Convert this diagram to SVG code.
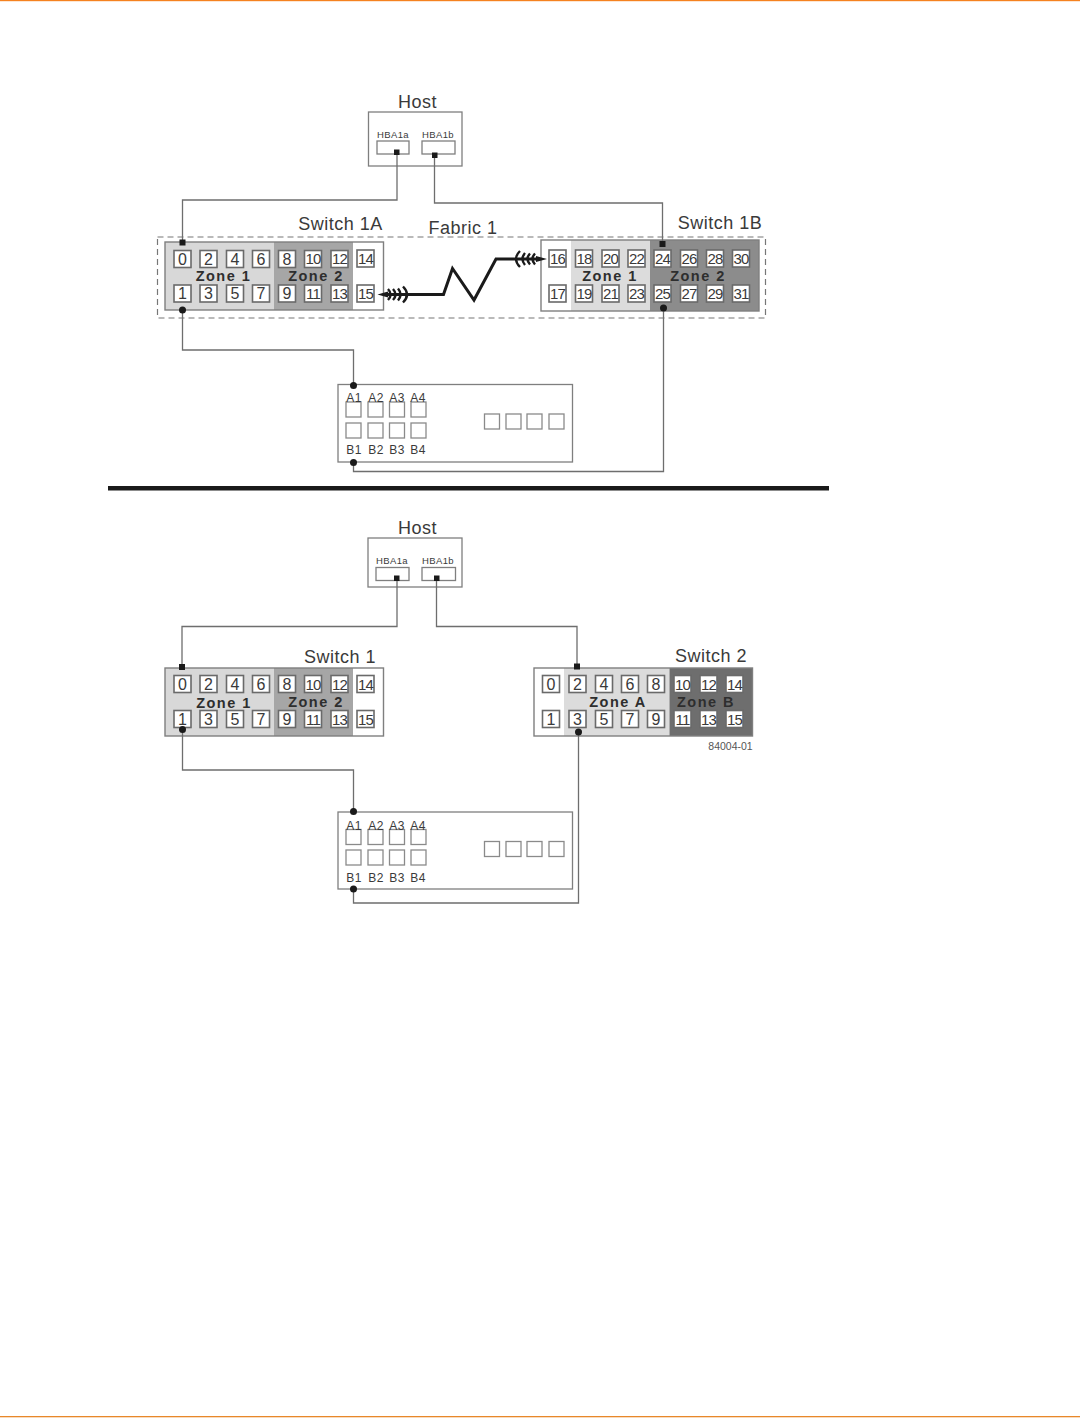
<svg xmlns="http://www.w3.org/2000/svg" width="1080" height="1418" viewBox="0 0 1080 1418">
<style>
text{font-family:"Liberation Sans",Arial,sans-serif;fill:#3a3a3a;text-anchor:middle}
.box{fill:#fff;stroke:#7f7f7f;stroke-width:1.3}
.p{fill:#fff;stroke:#6a6a6a;stroke-width:1.6}
.s{fill:#fff;stroke:#8a8a8a;stroke-width:1.3}
.n{font-size:16px}
.m{font-size:15px;letter-spacing:-.9px}
.t{font-size:18px;letter-spacing:.5px}
.z{font-size:14.5px;font-weight:bold;letter-spacing:1.5px;fill:#2e2e2e}
.h{font-size:9.5px;letter-spacing:.4px}
.a{font-size:12px;letter-spacing:.3px}
.w{fill:none;stroke:#6e6e6e;stroke-width:1.3}
.f{fill:none;stroke:#1a1a1a;stroke-width:3;stroke-linejoin:miter}
.b{fill:none;stroke:#1a1a1a;stroke-width:2.4}
.d{fill:#1a1a1a}
</style>
<rect x="0" y="0" width="1080" height="1.2" fill="#f58220"/>
<rect x="0" y="1416" width="1080" height="1.3" fill="#e8882a"/>
<rect x="108" y="486" width="721" height="4.5" fill="#1a1a1a"/>

<g id="fabric1">
<rect x="157.500" y="237" width="608" height="81" fill="none" stroke="#777" stroke-width="1.2" stroke-dasharray="6 4"/>
<text class="t" x="463" y="234">Fabric 1</text>
</g>

<g id="host1">
<text class="t" x="417.500" y="107.500">Host</text>
<rect class="box" x="368.500" y="112" width="93.500" height="54"/>
<text class="h" x="393" y="138">HBA1a</text>
<text class="h" x="438" y="138">HBA1b</text>
<rect class="box" x="377" y="141" width="32" height="13"/>
<rect class="box" x="422" y="141" width="33" height="13"/>
</g>

<g id="switch1a">
<text class="t" x="340.500" y="230">Switch 1A</text>
<rect x="165" y="242" width="109" height="68" fill="#d8d8d8"/>
<rect x="274" y="242" width="79" height="68" fill="#a6a6a6"/>
<rect x="165" y="242" width="218.500" height="68" fill="none" stroke="#7f7f7f" stroke-width="1.4"/>
<g class="ports">
<rect class="p" x="174" y="250.500" width="17" height="17"/><rect class="p" x="200" y="250.500" width="17" height="17"/><rect class="p" x="226.500" y="250.500" width="17" height="17"/><rect class="p" x="252.500" y="250.500" width="17" height="17"/><rect class="p" x="278.500" y="250.500" width="17" height="17"/><rect class="p" x="304.500" y="250.500" width="17" height="17"/><rect class="p" x="331" y="250.500" width="17" height="17"/><rect class="p" x="357" y="250" width="17" height="17"/>
<rect class="p" x="174" y="285" width="17" height="17"/><rect class="p" x="200" y="285" width="17" height="17"/><rect class="p" x="226.500" y="285" width="17" height="17"/><rect class="p" x="252.500" y="285" width="17" height="17"/><rect class="p" x="278.500" y="285" width="17" height="17"/><rect class="p" x="304.500" y="285" width="17" height="17"/><rect class="p" x="331" y="285" width="17" height="17"/><rect class="p" x="357" y="285" width="17" height="17"/>
</g>
<text class="n" x="182.500" y="264.500">0</text><text class="n" x="208.500" y="264.500">2</text><text class="n" x="235" y="264.500">4</text><text class="n" x="261" y="264.500">6</text><text class="n" x="287" y="264.500">8</text><text class="m" x="313" y="264">10</text><text class="m" x="339.500" y="264">12</text><text class="m" x="365.500" y="263.500">14</text>
<text class="n" x="182.500" y="299">1</text><text class="n" x="208.500" y="299">3</text><text class="n" x="235" y="299">5</text><text class="n" x="261" y="299">7</text><text class="n" x="287" y="299">9</text><text class="m" x="313" y="298.500">11</text><text class="m" x="339.500" y="298.500">13</text><text class="m" x="365.500" y="298.500">15</text>
<text class="z" x="223.500" y="281">Zone 1</text>
<text class="z" x="316" y="281">Zone 2</text>
</g>

<g id="switch1b">
<text class="t" x="720" y="229">Switch 1B</text>
<rect x="541" y="240" width="30" height="71" fill="#fff"/>
<rect x="571" y="240" width="79" height="71" fill="#dcdcdc"/>
<rect x="650" y="240" width="109" height="71" fill="#8c8c8c"/>
<rect x="541" y="240" width="218" height="71" fill="none" stroke="#7f7f7f" stroke-width="1.4"/>
<g class="ports">
<rect class="p" x="549" y="250" width="17" height="17"/><rect class="p" x="575.500" y="250" width="17" height="17"/><rect class="p" x="602" y="250" width="17" height="17"/><rect class="p" x="628" y="250" width="17" height="17"/><rect class="p" x="654" y="250" width="17" height="17"/><rect class="p" x="680.500" y="250" width="17" height="17"/><rect class="p" x="706.500" y="250" width="17" height="17"/><rect class="p" x="732.500" y="250" width="17" height="17"/>
<rect class="p" x="549" y="285" width="17" height="17"/><rect class="p" x="575.500" y="285" width="17" height="17"/><rect class="p" x="602" y="285" width="17" height="17"/><rect class="p" x="628" y="285" width="17" height="17"/><rect class="p" x="654" y="285" width="17" height="17"/><rect class="p" x="680.500" y="285" width="17" height="17"/><rect class="p" x="706.500" y="285" width="17" height="17"/><rect class="p" x="732.500" y="285" width="17" height="17"/>
</g>
<text class="m" x="557.500" y="263.500">16</text><text class="m" x="584" y="263.500">18</text><text class="m" x="610.500" y="263.500">20</text><text class="m" x="636.500" y="263.500">22</text><text class="m" x="662.500" y="263.500">24</text><text class="m" x="689" y="263.500">26</text><text class="m" x="715" y="263.500">28</text><text class="m" x="741" y="263.500">30</text>
<text class="m" x="557.500" y="298.500">17</text><text class="m" x="584" y="298.500">19</text><text class="m" x="610.500" y="298.500">21</text><text class="m" x="636.500" y="298.500">23</text><text class="m" x="662.500" y="298.500">25</text><text class="m" x="689" y="298.500">27</text><text class="m" x="715" y="298.500">29</text><text class="m" x="741" y="298.500">31</text>
<text class="z" x="610" y="281">Zone 1</text>
<text class="z" x="698" y="281">Zone 2</text>
</g>

<g id="storage1">
<rect class="box" x="338" y="384.500" width="234.500" height="77.500"/>
<rect class="s" x="346" y="402" width="15" height="15"/><rect class="s" x="368" y="402" width="15" height="15"/><rect class="s" x="389.500" y="402" width="15" height="15"/><rect class="s" x="411" y="402" width="15" height="15"/>
<text class="a" x="354" y="402">A1</text><text class="a" x="376" y="402">A2</text><text class="a" x="397" y="402">A3</text><text class="a" x="418" y="402">A4</text>
<rect class="s" x="346" y="423" width="15" height="15"/><rect class="s" x="368" y="423" width="15" height="15"/><rect class="s" x="389.500" y="423" width="15" height="15"/><rect class="s" x="411" y="423" width="15" height="15"/>
<rect class="s" x="484.500" y="414" width="15" height="15"/><rect class="s" x="506" y="414" width="15" height="15"/><rect class="s" x="527" y="414" width="15" height="15"/><rect class="s" x="549" y="414" width="15" height="15"/>
<text class="a" x="354" y="453.500">B1</text><text class="a" x="376" y="453.500">B2</text><text class="a" x="397" y="453.500">B3</text><text class="a" x="418" y="453.500">B4</text>
</g>

<g id="host2">
<text class="t" x="417.500" y="533.500">Host</text>
<rect class="box" x="368" y="538" width="94" height="49"/>
<text class="h" x="392" y="564">HBA1a</text>
<text class="h" x="438" y="564">HBA1b</text>
<rect class="box" x="376" y="567.500" width="33" height="13"/>
<rect class="box" x="422" y="567.500" width="33.500" height="13"/>
</g>

<g id="switch1">
<text class="t" x="340" y="662.500">Switch 1</text>
<rect x="165" y="668" width="109" height="68" fill="#d8d8d8"/>
<rect x="274" y="668" width="79" height="68" fill="#a6a6a6"/>
<rect x="165" y="668" width="218.500" height="68" fill="none" stroke="#7f7f7f" stroke-width="1.4"/>
<g class="ports">
<rect class="p" x="174" y="675.500" width="17" height="17"/><rect class="p" x="200" y="675.500" width="17" height="17"/><rect class="p" x="226.500" y="675.500" width="17" height="17"/><rect class="p" x="252.500" y="675.500" width="17" height="17"/><rect class="p" x="278.500" y="675.500" width="17" height="17"/><rect class="p" x="304.500" y="675.500" width="17" height="17"/><rect class="p" x="331" y="675.500" width="17" height="17"/><rect class="p" x="357" y="675.500" width="17" height="17"/>
<rect class="p" x="174" y="710.500" width="17" height="17"/><rect class="p" x="200" y="710.500" width="17" height="17"/><rect class="p" x="226.500" y="710.500" width="17" height="17"/><rect class="p" x="252.500" y="710.500" width="17" height="17"/><rect class="p" x="278.500" y="710.500" width="17" height="17"/><rect class="p" x="304.500" y="710.500" width="17" height="17"/><rect class="p" x="331" y="710.500" width="17" height="17"/><rect class="p" x="357" y="710.500" width="17" height="17"/>
</g>
<text class="n" x="182.500" y="690">0</text><text class="n" x="208.500" y="690">2</text><text class="n" x="235" y="690">4</text><text class="n" x="261" y="690">6</text><text class="n" x="287" y="690">8</text><text class="m" x="313" y="689.500">10</text><text class="m" x="339.500" y="689.500">12</text><text class="m" x="365.500" y="689.500">14</text>
<text class="n" x="182.500" y="725">1</text><text class="n" x="208.500" y="725">3</text><text class="n" x="235" y="725">5</text><text class="n" x="261" y="725">7</text><text class="n" x="287" y="725">9</text><text class="m" x="313" y="724.500">11</text><text class="m" x="339.500" y="724.500">13</text><text class="m" x="365.500" y="724.500">15</text>
<text class="z" x="224" y="708">Zone 1</text>
<text class="z" x="316" y="707">Zone 2</text>
</g>

<g id="switch2">
<text class="t" x="711" y="662">Switch 2</text>
<rect x="534" y="668" width="30" height="68" fill="#fff"/>
<rect x="564" y="668" width="105.500" height="68" fill="#dcdcdc"/>
<rect x="669.500" y="668" width="83" height="68" fill="#6e6e6e"/>
<rect x="534" y="668" width="218.500" height="68" fill="none" stroke="#7f7f7f" stroke-width="1.4"/>
<g class="ports">
<rect class="p" x="542.500" y="675.500" width="17" height="17"/><rect class="p" x="569" y="675.500" width="17" height="17"/><rect class="p" x="595.500" y="675.500" width="17" height="17"/><rect class="p" x="621.500" y="675.500" width="17" height="17"/><rect class="p" x="647.500" y="675.500" width="17" height="17"/><rect class="p" x="674" y="675.500" width="17" height="17"/><rect class="p" x="700" y="675.500" width="17" height="17"/><rect class="p" x="726" y="675.500" width="17" height="17"/>
<rect class="p" x="542.500" y="710.500" width="17" height="17"/><rect class="p" x="569" y="710.500" width="17" height="17"/><rect class="p" x="595.500" y="710.500" width="17" height="17"/><rect class="p" x="621.500" y="710.500" width="17" height="17"/><rect class="p" x="647.500" y="710.500" width="17" height="17"/><rect class="p" x="674" y="710.500" width="17" height="17"/><rect class="p" x="700" y="710.500" width="17" height="17"/><rect class="p" x="726" y="710.500" width="17" height="17"/>
</g>
<text class="n" x="551" y="690">0</text><text class="n" x="577.500" y="690">2</text><text class="n" x="604" y="690">4</text><text class="n" x="630" y="690">6</text><text class="n" x="656" y="690">8</text><text class="m" x="682.500" y="689.500">10</text><text class="m" x="708.500" y="689.500">12</text><text class="m" x="734.500" y="689.500">14</text>
<text class="n" x="551" y="725">1</text><text class="n" x="577.500" y="725">3</text><text class="n" x="604" y="725">5</text><text class="n" x="630" y="725">7</text><text class="n" x="656" y="725">9</text><text class="m" x="682.500" y="724.500">11</text><text class="m" x="708.500" y="724.500">13</text><text class="m" x="734.500" y="724.500">15</text>
<text class="z" x="618" y="707">Zone A</text>
<text class="z" x="706" y="707">Zone B</text>
<text x="730.500" y="750" style="font-size:10.500px;fill:#555">84004-01</text>
</g>

<g id="storage2">
<rect class="box" x="338" y="812" width="234.500" height="77"/>
<rect class="s" x="346" y="829.500" width="15" height="15"/><rect class="s" x="368" y="829.500" width="15" height="15"/><rect class="s" x="389.500" y="829.500" width="15" height="15"/><rect class="s" x="411" y="829.500" width="15" height="15"/>
<text class="a" x="354" y="830">A1</text><text class="a" x="376" y="830">A2</text><text class="a" x="397" y="830">A3</text><text class="a" x="418" y="830">A4</text>
<rect class="s" x="346" y="850" width="15" height="15"/><rect class="s" x="368" y="850" width="15" height="15"/><rect class="s" x="389.500" y="850" width="15" height="15"/><rect class="s" x="411" y="850" width="15" height="15"/>
<rect class="s" x="484.500" y="841.500" width="15" height="15"/><rect class="s" x="506" y="841.500" width="15" height="15"/><rect class="s" x="527" y="841.500" width="15" height="15"/><rect class="s" x="549" y="841.500" width="15" height="15"/>
<text class="a" x="354" y="881.500">B1</text><text class="a" x="376" y="881.500">B2</text><text class="a" x="397" y="881.500">B3</text><text class="a" x="418" y="881.500">B4</text>
</g>

<g id="connectors">
<path class="w" d="M397 152V200H182.500V243"/>
<path class="w" d="M434.500 155V203H662.500V244"/>
<path class="w" d="M182.500 310V350H353.500V385"/>
<path class="w" d="M353.500 463V471.500H663.500V308"/>
<path class="w" d="M397 578V626.500H182V667"/>
<path class="w" d="M436.500 578V626.500H577V666"/>
<path class="w" d="M182.500 730V770H353.500V812"/>
<path class="w" d="M353.500 889V903H578.500V732"/>
<path class="f" d="M388 294.500H443.500L452.500 268.500L474 300L496 259H536"/>
<path class="d" d="M377.500 294.500L388 291.500V297.500ZM547 259L536 256V262Z"/>
<path class="b" d="M388 289Q393 294.500 388 300M393 289Q398 294.500 393 300M398 288.500Q403 294.500 398 300.500M403 286.500Q411 294.500 403 302.500"/>
<path class="b" d="M535 253.500Q530 259 535 264.500M530 253.500Q525 259 530 264.500M525 253Q520 259 525 265M520 251Q512 259 520 267"/>
<rect class="d" x="179.500" y="239.500" width="6" height="6"/>
<rect class="d" x="659.500" y="241" width="6" height="6"/>
<rect class="d" x="179" y="664" width="6" height="6"/>
<rect class="d" x="574" y="663.500" width="6" height="6"/>
<rect class="d" x="394" y="149.500" width="5.500" height="5.500"/>
<rect class="d" x="432" y="152.500" width="5.500" height="5.500"/>
<rect class="d" x="394" y="575.500" width="5.500" height="5.500"/>
<rect class="d" x="434" y="575.500" width="5.500" height="5.500"/>
<circle class="d" cx="182.500" cy="310" r="3.500"/>
<circle class="d" cx="663.500" cy="308" r="3.500"/>
<circle class="d" cx="353.500" cy="385.500" r="3.500"/>
<circle class="d" cx="353.500" cy="462.500" r="3.500"/>
<circle class="d" cx="182.500" cy="729.500" r="3.500"/>
<circle class="d" cx="578.500" cy="732" r="3.500"/>
<circle class="d" cx="353.500" cy="811.500" r="3.500"/>
<circle class="d" cx="353.500" cy="889" r="3.500"/>
</g>
</svg>
